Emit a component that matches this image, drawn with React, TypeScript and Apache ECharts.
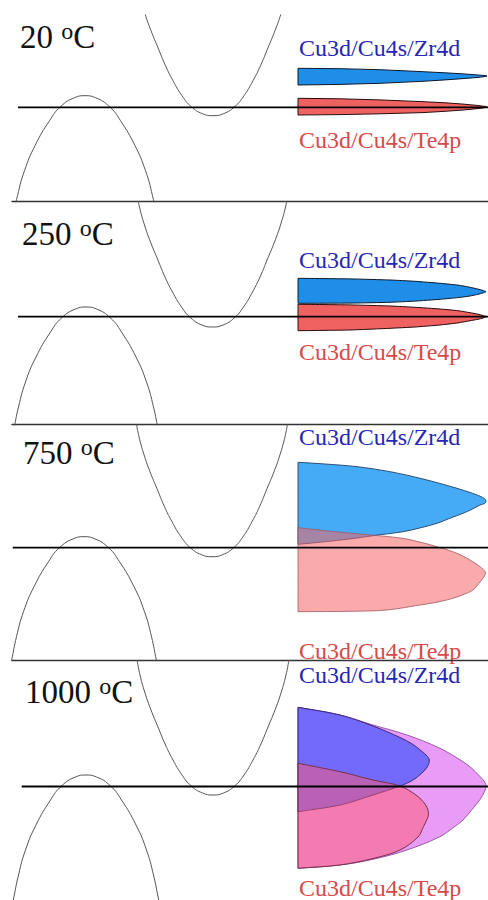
import React, { useEffect, useRef } from "react";
import * as echarts from "echarts";

// ---- data (k in arbitrary units, energy relative to Fermi level, arb. units) ----
const temperatures = ["20", "250", "750", "1000"];
const labelZr = "Cu3d/Cu4s/Zr4d";
const labelTe = "Cu3d/Cu4s/Te4p";

// shared band dispersions (offset from extremum)
const cbK = [0, 10.5, 21.7, 31, 40, 47.5, 55, 62, 68, 73, 76, 79];
const cbE = [0, 2, 9, 20, 35, 50, 68, 85, 102, 120, 135, 150];
const vbK = [0, 10.5, 24.5, 35.5, 50, 60.5, 67.5, 72.5, 76];
const vbE = [0, -2, -11, -25, -50, -75, -100, -124, -140];

// per-panel band extrema
const cbMinE = [-8.4, -10.3, -9, -8.5];
const cbCenterK = [213, 212.5, 212, 213];
const vbMaxE = [11.6, 9.7, 11, 11.5];
const vbCenterK = [85, 86, 84, 86];
const fermiStartK = [18, 18, 12.7, 21.7];
const fermiEndK = 488;

// DOS-like shapes per panel: [k, E]
const p1Zr = [[298, 39], [340, 38.6], [380, 37.6], [423, 35.6], [445, 34.5], [462, 33.5], [477, 32.4], [484, 31.8], [487, 31.3], [484, 30.6], [477, 29.8], [462, 28.6], [445, 27.4], [423, 26], [380, 24], [340, 22.9], [298, 22.3]];
const p1Te = [[298, 9], [340, 8.5], [380, 7.4], [423, 5.6], [445, 4.5], [462, 3.3], [477, 1.9], [484, 1], [487, 0.3], [484, -0.5], [477, -1.4], [462, -2.8], [445, -4], [423, -5.3], [380, -6.5], [340, -7.3], [298, -7.7]];
const p2Zr = [[298, 38.4], [350, 37.8], [390, 36.7], [415, 35.4], [440, 33.4], [458, 31.6], [470, 29.4], [478, 27.6], [483, 26.2], [486, 25], [483, 23.8], [478, 22.4], [470, 20.7], [458, 19.1], [440, 17.4], [415, 15.6], [390, 14.4], [350, 13.6], [298, 13.4]];
const p2Te = [[298, 12.4], [350, 11.8], [390, 10.7], [415, 9.4], [440, 7.7], [458, 6], [470, 4], [478, 2.5], [483, 1.2], [486, 0], [483, -1.3], [478, -2.6], [470, -4], [458, -6.2], [440, -8.3], [415, -10.3], [390, -11.6], [350, -13.3], [298, -14]];
const p3Zr = [[298, 85.4], [325, 83.7], [357, 81], [390, 76], [423, 68.7], [457, 59.4], [472, 54.5], [480, 51.5], [484.5, 49], [486, 46.5], [484.5, 44.2], [480, 42.7], [472, 38.5], [463, 34.4], [450, 29.5], [437, 24.4], [420, 19.8], [403, 16], [375, 12.3], [350, 8.8], [323, 5.8], [298, 3.4]];
const p3Te = [[298, 20], [340, 15.5], [375, 12.3], [403, 9.4], [420, 5.6], [437, 1], [457, -5.6], [470, -12.3], [478, -17.5], [483, -21.5], [485.5, -25], [484, -29], [479, -35.5], [473, -42.3], [463, -47], [453, -50.6], [437, -54.5], [420, -57.3], [387, -62.3], [357, -63.5], [298, -64]];
const p4Mix = [[298, 79.2], [340, 71.5], [373, 61.5], [407, 51.5], [440, 38.2], [463, 24.8], [472, 18], [479, 11], [484, 5.5], [486, 1], [484.5, -5], [480, -13], [472, -23], [463, -33.5], [452, -42], [440, -50.2], [407, -63.5], [373, -72.8], [340, -78.5], [298, -81.8]];
const p4Zr = [[298, 79.2], [340, 71.5], [373, 60.5], [400, 49], [413, 42], [422, 35], [427.5, 30], [429.3, 26.5], [428, 21], [424, 15.5], [413, 6.5], [400, 0.5], [373, -8.5], [340, -18.5], [298, -25.2]];
const p4Te = [[298, 23.2], [340, 14.8], [373, 6.5], [400, 0.5], [416, -8.5], [423, -15], [427, -21], [428.5, -27.5], [427, -33], [423.5, -40], [418, -50.5], [400, -63.5], [373, -72], [340, -78.5], [298, -81.8]];

const panelShapes = [[p1Zr, p1Te], [p2Zr, p2Te], [p3Zr, p3Te], [p4Mix, p4Zr, p4Te]];

// ---- styles / layout ----
const shapeStyles = [
  [{ fill: "#1e8ee8", stroke: "#0d1a2c", lw: 1 }, { fill: "#f06262", stroke: "#2a0a0a", lw: 1 }],
  [{ fill: "#1e8ee8", stroke: "#0d1a2c", lw: 1 }, { fill: "#f06262", stroke: "#2a0a0a", lw: 1 }],
  [{ fill: "#45abf6", stroke: "#2d4f78", lw: 1 }, { fill: "rgba(246,100,100,0.55)", stroke: "rgba(160,90,100,0.8)", lw: 1 }],
  [{ fill: "#e89cf5", stroke: "#9a5aa8", lw: 1 }, { fill: "rgba(76,88,252,0.75)", stroke: "#3b2a7a", lw: 1 }, { fill: "rgba(255,90,110,0.5)", stroke: "#7a3050", lw: 1 }],
];
const panelSmooth = [0, 0.15, 0.35, 0.35];
const gridTop = [15, 201.7, 424.7, 660.5];
const eMax = [92.3, 115, 123, 126];
const eMin = [-94.4, -108, -112.8, -113.5];
const titleX = [20, 22, 23, 25];
const titleY = [36.5, 234.3, 452.5, 692];
const zrLabelY = [48.3, 260, 437.3, 675];
const teLabelY = [140, 351.7, 651, 888.3];
const SERIF = "'Liberation Serif', 'Times New Roman', serif";

function mirror(ks: number[], es: number[], center: number, shift: number) {
  const left = ks.slice(1).map((k, j) => [center - k, es[j + 1] + shift]).reverse();
  const right = ks.map((k, j) => [center + k, es[j] + shift]);
  return [...left, ...right];
}

export default function App() {
  const ref = useRef<HTMLDivElement>(null);
  useEffect(() => {
    if (!ref.current) return;
    const chart = echarts.init(ref.current, null, { renderer: "svg" });
    const idx = [0, 1, 2, 3];
    const series: any[] = [];
    idx.forEach((i) => {
      const shapes = panelShapes[i];
      series.push({
        type: "custom",
        xAxisIndex: i,
        yAxisIndex: i,
        z: 1,
        silent: true,
        data: shapes.map((s) => s[0]),
        renderItem: (params: any, api: any) => {
          const raw = shapes[params.dataIndex].map((p) => api.coord(p));
          // duplicate the two left corners so smoothing keeps the straight left edge
          const pts = [raw[0], ...raw, raw[raw.length - 1]];
          const st = shapeStyles[i][params.dataIndex];
          return {
            type: "polygon",
            shape: { points: pts, smooth: panelSmooth[i] },
            style: { fill: st.fill, stroke: st.stroke, lineWidth: st.lw },
          };
        },
      });
      series.push({
        type: "line",
        xAxisIndex: i,
        yAxisIndex: i,
        z: 3,
        symbol: "none",
        silent: true,
        data: [[fermiStartK[i], 0], [fermiEndK, 0]],
        lineStyle: { color: "#000", width: 1.8 },
      });
      series.push({
        type: "line",
        xAxisIndex: i,
        yAxisIndex: i,
        z: 2,
        symbol: "none",
        smooth: true,
        silent: true,
        data: mirror(cbK, cbE, cbCenterK[i], cbMinE[i]),
        lineStyle: { color: "#555", width: 1 },
      });
      series.push({
        type: "line",
        xAxisIndex: i,
        yAxisIndex: i,
        z: 2,
        symbol: "none",
        smooth: true,
        silent: true,
        data: mirror(vbK, vbE, vbCenterK[i], vbMaxE[i]),
        lineStyle: { color: "#555", width: 1 },
      });
    });

    const graphic: any[] = [];
    idx.forEach((i) => {
      graphic.push({
        type: "text",
        x: titleX[i],
        y: titleY[i],
        style: {
          text: `{n|${temperatures[i]} }{s|o}{n|C}`,
          verticalAlign: "middle",
          align: "left",
          rich: {
            n: { fontSize: 33, fontFamily: SERIF, fill: "#111", lineHeight: 36 },
            s: { fontSize: 24, fontFamily: SERIF, fill: "#111", verticalAlign: "top", lineHeight: 22 },
          },
        },
      });
      graphic.push({
        type: "text",
        x: 299,
        y: zrLabelY[i],
        style: { text: labelZr, fontSize: 24, fontFamily: SERIF, fill: "#2626b4", verticalAlign: "middle", align: "left" },
      });
      graphic.push({
        type: "text",
        x: 299,
        y: teLabelY[i],
        style: { text: labelTe, fontSize: 24, fontFamily: SERIF, fill: "#d84a4a", verticalAlign: "middle", align: "left" },
      });
    });

    chart.setOption({
      animation: false,
      backgroundColor: "#fff",
      grid: idx.map((i) => ({ left: 12, right: 0, top: gridTop[i], height: eMax[i] - eMin[i] })),
      xAxis: idx.map((i) => ({
        gridIndex: i,
        type: "value",
        min: 12,
        max: 488,
        position: "bottom",
        axisLine: { show: i < 3, onZero: false, lineStyle: { color: "#333", width: 1.3 } },
        axisTick: { show: false },
        axisLabel: { show: false },
        splitLine: { show: false },
      })),
      yAxis: idx.map((i) => ({
        gridIndex: i,
        type: "value",
        min: eMin[i],
        max: eMax[i],
        show: false,
        splitLine: { show: false },
      })),
      series,
      graphic,
    });
    return () => chart.dispose();
  }, []);
  return <div ref={ref} style={{ position: "absolute", left: 0, top: 0, width: 488, height: 900, background: "#fff" }} />;
}
